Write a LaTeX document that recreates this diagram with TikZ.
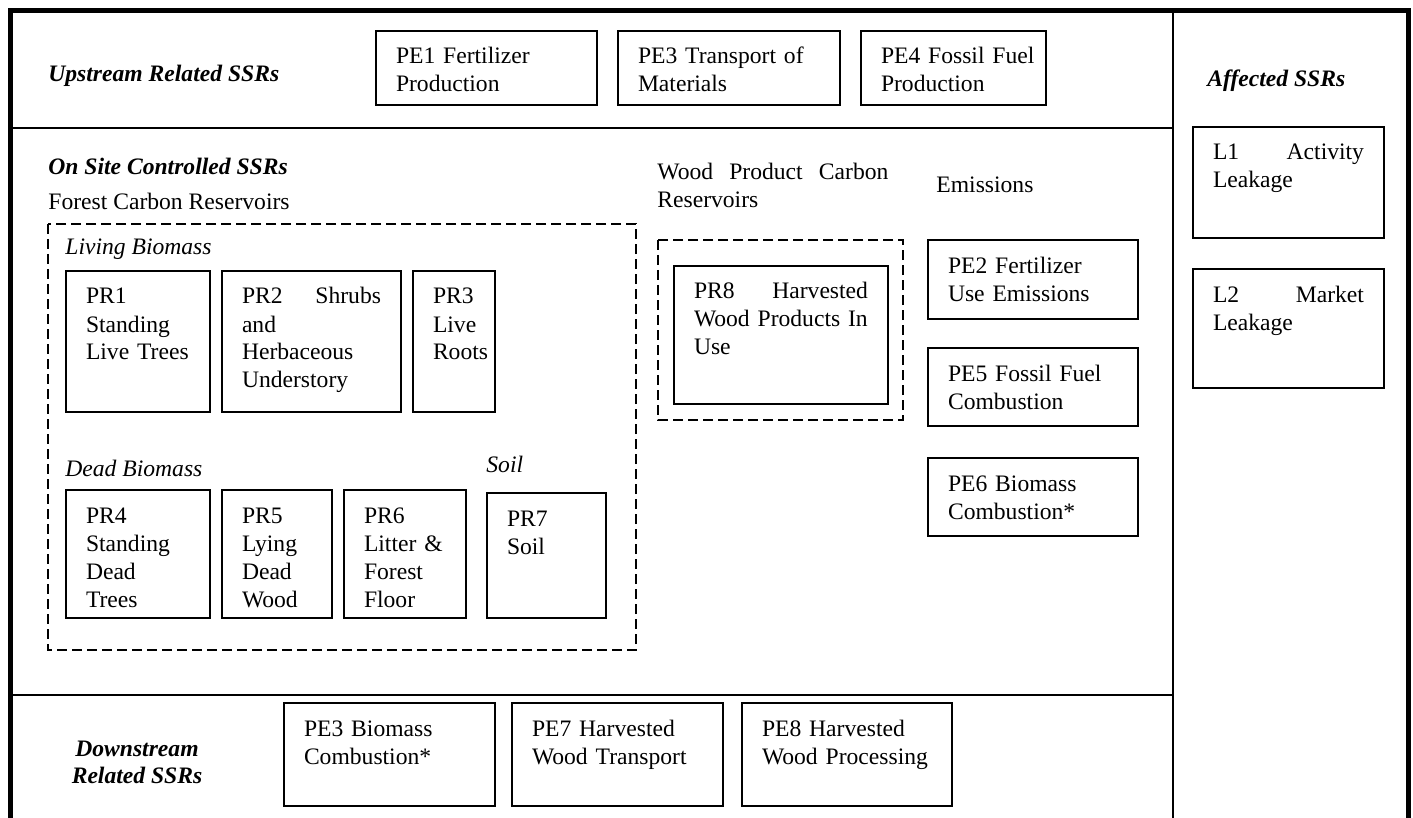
\documentclass[tikz,border=0pt]{standalone}
\usepackage{fontspec}
\setmainfont{Liberation Serif}
\begin{document}
\begin{tikzpicture}[x=0.5pt,y=-0.5pt,
  ssr/.style={draw, line width=1pt, anchor=north west, inner xsep=10pt, inner ysep=0pt,
    text height=16.5pt, align=left, font=\fontsize{11.8}{14}\selectfont},
  lbl/.style={anchor=base west, inner sep=0pt, font=\fontsize{11.8}{14}\selectfont},
  head/.style={anchor=base west, inner sep=0pt, font=\fontsize{11.8}{13.5}\selectfont\bfseries\itshape},
  sub/.style={anchor=base west, inner sep=0pt, font=\fontsize{11.8}{14}\selectfont\itshape},
  grp/.style={draw, line width=0.9pt, dash pattern=on 5pt off 2.5pt},
  frame/.style={line width=2.5pt, line join=miter},
  divider/.style={line width=1pt}]
\newcommand\ssrbox[6]{%
  \pgfmathsetmacro\bw{(#4-#2)/2-20}%
  \pgfmathsetmacro\bd{(#5-#3)/2-16.5}%
  \node[ssr, text width=\bw pt, text depth=\bd pt] (#1) at (#2,#3) {#6};}
\useasboundingbox (0,0) rectangle (1413,818);
% frame and dividers
\draw[frame] (10,818) -- (10,10.5) -- (1408,10.5) -- (1408,818);
\draw[divider] (1173,10) -- (1173,818);
\draw[divider] (10,128) -- (1173,128);
\draw[divider] (10,695) -- (1173,695);
% upstream
\node[head] (up) at (48,82) {Upstream Related SSRs};
\ssrbox{pe1}{375}{30}{596}{104}{\mbox{PE1 Fertilizer}\\Production}
\ssrbox{pe3}{617}{30}{839}{104}{\mbox{PE3 Transport of}\\Materials}
\ssrbox{pe4}{860}{30}{1045}{104}{\mbox{PE4 Fossil Fuel}\\Production}
% affected
\node[head] (aff) at (1207,87) {Affected SSRs};
\ssrbox{l1}{1192}{126}{1383}{237}{L1\hfill Activity\\Leakage}
\ssrbox{l2}{1192}{268}{1383}{387}{L2\hfill Market\\Leakage}
% on site
\node[head] (on) at (48,175) {On Site Controlled SSRs};
\node[lbl] (fcr) at (48,210) {Forest Carbon Reservoirs};
\draw[grp] (48,224) rectangle (636,650);
\node[sub] (liv) at (65,255) {Living Biomass};
\ssrbox{pr1}{65}{270}{209}{411}{PR1\\Standing\\\mbox{Live Trees}}
\ssrbox{pr2}{221}{270}{400}{411}{PR2\hfill Shrubs\\and\\Herbaceous\\Understory}
\ssrbox{pr3}{412}{270}{494}{411}{PR3\\Live\\Roots}
\node[sub] (dead) at (65,476) {Dead Biomass};
\node[sub] (soil) at (486,472) {Soil};
\ssrbox{pr4}{65}{489}{209}{617}{PR4\\Standing\\Dead\\Trees}
\ssrbox{pr5}{221}{489}{331}{617}{PR5\\Lying\\Dead\\Wood}
\ssrbox{pr6}{343}{489}{465}{617}{PR6\\\mbox{Litter \&}\\Forest\\Floor}
\ssrbox{pr7}{486}{492}{605}{617}{PR7\\Soil}
% wood products
\node[lbl, anchor=base west, text width=115.5pt, align=left] (wpc) at (657,180) {Wood\hfill Product\hfill Carbon\\Reservoirs};
\draw[grp] (658,240) rectangle (903,420);
\ssrbox{pr8}{673}{265}{887}{403}{PR8\hfill Harvested\\\mbox{Wood Products In}\\Use}
% emissions
\node[lbl] (em) at (936,193) {Emissions};
\ssrbox{pe2}{927}{239}{1137}{318}{\mbox{PE2 Fertilizer}\\\mbox{Use Emissions}}
\ssrbox{pe5}{927}{347}{1137}{425}{\mbox{PE5 Fossil Fuel}\\Combustion}
\ssrbox{pe6}{927}{457}{1137}{535}{\mbox{PE6 Biomass}\\Combustion*}
% downstream
\node[head, anchor=base, align=center] (down) at (137,783) {Downstream\\Related SSRs};
\ssrbox{pe3b}{283}{702}{494}{805}{\mbox{PE3 Biomass}\\Combustion*}
\ssrbox{pe7}{511}{702}{722}{805}{\mbox{PE7 Harvested}\\\mbox{Wood Transport}}
\ssrbox{pe8}{741}{702}{951}{805}{\mbox{PE8 Harvested}\\\mbox{Wood Processing}}
\end{tikzpicture}
\end{document}
